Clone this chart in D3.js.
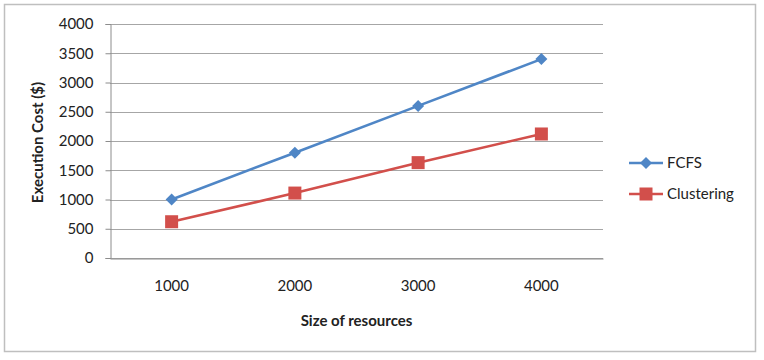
<!DOCTYPE html>
<html><head><meta charset="utf-8">
<script src="https://cdn.jsdelivr.net/npm/d3@7"></script>
<style>body{margin:0;background:#fff;} text{font-family:Lato,"Open Sans",sans-serif;}</style>
</head><body>
<svg id="c" width="764" height="360"></svg>
<script>
const categories = ["1000","2000","3000","4000"];
const fcfs = [1000, 1800, 2600, 3400];
const clustering = [620, 1110, 1630, 2120];
const yTicks = [0,500,1000,1500,2000,2500,3000,3500,4000];
const seriesNames = ["FCFS","Clustering"];
const colors = ["#4F86C6","#D24F4B"];

const svg = d3.select("#c");
svg.append("rect").attr("x",4.5).attr("y",4.5).attr("width",751).attr("height",347)
  .attr("fill","#fff").attr("stroke","#BFBFBF").attr("stroke-width",1.5);

const L=110, R=603, T=24, B=258;
const x = d3.scaleBand().domain(categories).range([L,R]);
const y = d3.scaleLinear().domain([0,4000]).range([B,T]);
const g = svg.append("g");

// gridlines
g.selectAll(".grid").data(yTicks).join("line")
  .attr("x1",L).attr("x2",R).attr("y1",d=>Math.round(y(d))+0.5).attr("y2",d=>Math.round(y(d))+0.5)
  .attr("stroke","#A6A6A6").attr("stroke-width",1);

// y axis
const ya = g.append("g").attr("transform",`translate(${L+0.5},0)`)
  .call(d3.axisLeft(y).tickValues(yTicks).tickSize(5).tickPadding(12).tickFormat(d3.format("d")));
ya.select(".domain").attr("stroke","#8C8C8C");
ya.selectAll(".tick line").attr("stroke","#8C8C8C");
ya.selectAll(".tick text").attr("font-size",15).attr("fill","#222").attr("font-family","Lato");

// x axis
const xa = g.append("g").attr("transform",`translate(0,${B+0.5})`)
  .call(d3.axisBottom(x).tickSize(0).tickPadding(22));
xa.select(".domain").attr("stroke","#8C8C8C");
xa.selectAll(".tick text").attr("font-size",15).attr("fill","#222").attr("font-family","Lato");

// titles
svg.append("text").attr("x",(L+R)/2).attr("y",326).attr("text-anchor","middle")
  .attr("font-size",15).attr("font-weight","bold").attr("fill","#222").text("Size of resources");
svg.append("text").attr("transform",`translate(43,${(78+207)/2}) rotate(-90)`).attr("text-anchor","middle")
  .attr("font-size",15).attr("font-weight","bold").attr("fill","#222").text("Execution Cost ($)");

const cx = d=>x(d)+x.bandwidth()/2;
const line = d3.line().x((d,i)=>cx(categories[i])).y(d=>y(d));
const data = [fcfs, clustering];
data.forEach((s,k)=>{
  g.append("path").datum(s).attr("d",line).attr("fill","none").attr("stroke",colors[k]).attr("stroke-width",2.6);
});
function marker(sel,k,px,py){
  if(k===0){
    sel.append("path").attr("d",`M${px},${py-6}L${px+6},${py}L${px},${py+6}L${px-6},${py}Z`).attr("fill",colors[0]);
  } else {
    sel.append("rect").attr("x",px-6.5).attr("y",py-6.5).attr("width",13).attr("height",13).attr("fill",colors[1]);
  }
}
data.forEach((s,k)=>{
  s.forEach((v,i)=>marker(g,k,cx(categories[i]),y(v)));
});

// legend
const legY=[163,194];
seriesNames.forEach((n,k)=>{
  svg.append("line").attr("x1",629).attr("x2",663).attr("y1",legY[k]).attr("y2",legY[k])
    .attr("stroke",colors[k]).attr("stroke-width",2.6);
  marker(svg,k,646,legY[k]);
  svg.append("text").attr("x",667).attr("y",legY[k]+5).attr("font-size",15).attr("fill","#222").text(n);
});
</script>
</body></html>
